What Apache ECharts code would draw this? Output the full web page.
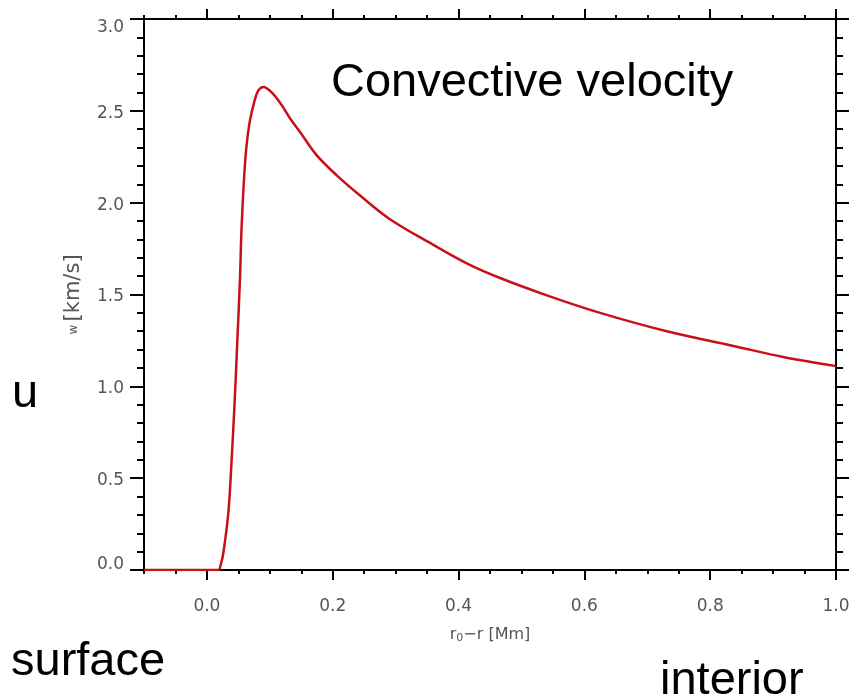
<!DOCTYPE html>
<html>
<head>
<meta charset="utf-8">
<script src="https://cdn.jsdelivr.net/npm/echarts@6/dist/echarts.min.js"></script>
<style>html,body{margin:0;padding:0;background:#fff;}#c{width:854px;height:699px;}</style>
</head>
<body>
<div id="c"></div>
<script>
// Data
var depth = [-0.1, 0.018, 0.022, 0.026, 0.034, 0.039, 0.0445, 0.048, 0.0525, 0.055, 0.059, 0.063, 0.068, 0.075, 0.0816, 0.09, 0.103, 0.119, 0.132, 0.148, 0.174, 0.206, 0.243, 0.291, 0.360, 0.413, 0.466, 0.545, 0.625, 0.731, 0.837, 0.916, 1.0];
var velocity = [0, 0, 0.03, 0.09, 0.31, 0.58, 0.945, 1.22, 1.58, 1.855, 2.13, 2.31, 2.44, 2.545, 2.61, 2.63, 2.60, 2.53, 2.46, 2.385, 2.26, 2.15, 2.04, 1.91, 1.77, 1.67, 1.59, 1.49, 1.40, 1.30, 1.22, 1.16, 1.11];
var xMajorTicks = [0.0, 0.2, 0.4, 0.6, 0.8, 1.0];
var xMinorTicks = [-0.1, -0.05, 0.05, 0.1, 0.15, 0.25, 0.3, 0.35, 0.45, 0.5, 0.55, 0.65, 0.7, 0.75, 0.85, 0.9, 0.95];
var yTickLabels = ['0.0', '0.5', '1.0', '1.5', '2.0', '2.5', '3.0'];
var titleText = 'Convective velocity';
var sideTexts = ['u', 'surface', 'interior'];

var pts = depth.map(function (d, i) { return [d, velocity[i]]; });
var labelFont = 'DejaVu Sans';
var labelColor = '#555';
var black = '#000';
var bigFont = '47px "Liberation Sans", Arial, sans-serif';

var chart = echarts.init(document.getElementById('c'), null, {renderer: 'canvas'});
chart.setOption({
  backgroundColor: '#fff',
  animation: false,
  grid: {left: 144, right: 18, top: 19, bottom: 129, containLabel: false},
  xAxis: [
    {
      type: 'value', position: 'bottom', min: -0.1, max: 1.0,
      axisLine: {show: true, onZero: false, lineStyle: {color: black, width: 2}},
      axisTick: {show: true, customValues: xMajorTicks, length: 10, lineStyle: {color: black, width: 2}},
      axisLabel: {show: true, customValues: xMajorTicks, margin: 28, fontFamily: labelFont, fontSize: 17, color: labelColor,
        formatter: function (v) { return v.toFixed(1); }},
      splitLine: {show: false},
      name: '{a|r}{s|0}{a|\u2212r [Mm]}', nameLocation: 'middle', nameGap: 55,
      nameTextStyle: {rich: {
        a: {fontFamily: labelFont, fontSize: 16, color: labelColor},
        s: {fontFamily: labelFont, fontSize: 11, color: labelColor, padding: [8, 0, 0, 0]}
      }}
    },
    {
      type: 'value', position: 'bottom', min: -0.1, max: 1.0,
      axisLine: {show: false, onZero: false},
      axisTick: {show: true, customValues: xMinorTicks, length: 4, lineStyle: {color: black, width: 2}},
      axisLabel: {show: false}, splitLine: {show: false}
    },
    {
      type: 'value', position: 'top', min: -0.1, max: 1.0,
      axisLine: {show: true, onZero: false, lineStyle: {color: black, width: 2}},
      axisTick: {show: true, customValues: xMajorTicks, length: 10, lineStyle: {color: black, width: 2}},
      axisLabel: {show: false}, splitLine: {show: false}
    },
    {
      type: 'value', position: 'top', min: -0.1, max: 1.0,
      axisLine: {show: false, onZero: false},
      axisTick: {show: true, customValues: xMinorTicks, length: 4, lineStyle: {color: black, width: 2}},
      axisLabel: {show: false}, splitLine: {show: false}
    }
  ],
  yAxis: [
    {
      type: 'value', position: 'left', min: 0, max: 3, interval: 0.5,
      axisLine: {show: true, onZero: false, lineStyle: {color: black, width: 2}},
      axisTick: {show: true, length: 14, lineStyle: {color: black, width: 2}},
      minorTick: {show: true, splitNumber: 5, length: 7, lineStyle: {color: black, width: 2}},
      splitLine: {show: false}, minorSplitLine: {show: false},
      axisLabel: {show: true, margin: 20, fontFamily: labelFont, fontSize: 17, color: labelColor,
        formatter: function (v) {
          var idx = Math.round(v / 0.5);
          var t = yTickLabels[idx];
          if (idx === yTickLabels.length - 1) return '{t|' + t + '}';
          if (idx === 0) return '{b|' + t + '}';
          return '{n|' + t + '}';
        },
        rich: {
          t: {fontFamily: labelFont, fontSize: 17, color: labelColor, padding: [18, 0, 0, 0]},
          b: {fontFamily: labelFont, fontSize: 17, color: labelColor, padding: [0, 0, 10, 0]},
          n: {fontFamily: labelFont, fontSize: 17, color: labelColor, padding: [5, 0, 0, 0]}
        }
      },
      name: '{w|w} {a|[km/s]}', nameLocation: 'middle', nameRotate: 90, nameGap: 60,
      nameTextStyle: {rich: {
        w: {fontFamily: labelFont, fontSize: 12, color: labelColor},
        a: {fontFamily: labelFont, fontSize: 21, color: labelColor}
      }}
    },
    {
      type: 'value', position: 'right', min: 0, max: 3, interval: 0.5,
      axisLine: {show: true, onZero: false, lineStyle: {color: black, width: 2}},
      axisTick: {show: true, length: 13, lineStyle: {color: black, width: 2}},
      minorTick: {show: true, splitNumber: 5, length: 7, lineStyle: {color: black, width: 2}},
      splitLine: {show: false}, minorSplitLine: {show: false},
      axisLabel: {show: false}
    }
  ],
  series: [{
    type: 'line', xAxisIndex: 0, yAxisIndex: 0, data: pts,
    showSymbol: false, symbol: 'none', smooth: 0.35,
    lineStyle: {color: '#c8101a', width: 2.5},
    silent: true
  }],
  graphic: [
    {type: 'text', left: 331, top: 83 - 23, style: {text: titleText, font: bigFont, fill: '#000'}},
    {type: 'text', left: 12, top: 394 - 23, style: {text: sideTexts[0], font: bigFont, fill: '#000'}},
    {type: 'text', left: 11, top: 662 - 23, style: {text: sideTexts[1], font: bigFont, fill: '#000'}},
    {type: 'text', left: 660, top: 681 - 23, style: {text: sideTexts[2], font: bigFont, fill: '#000'}}
  ]
});
</script>
</body>
</html>
